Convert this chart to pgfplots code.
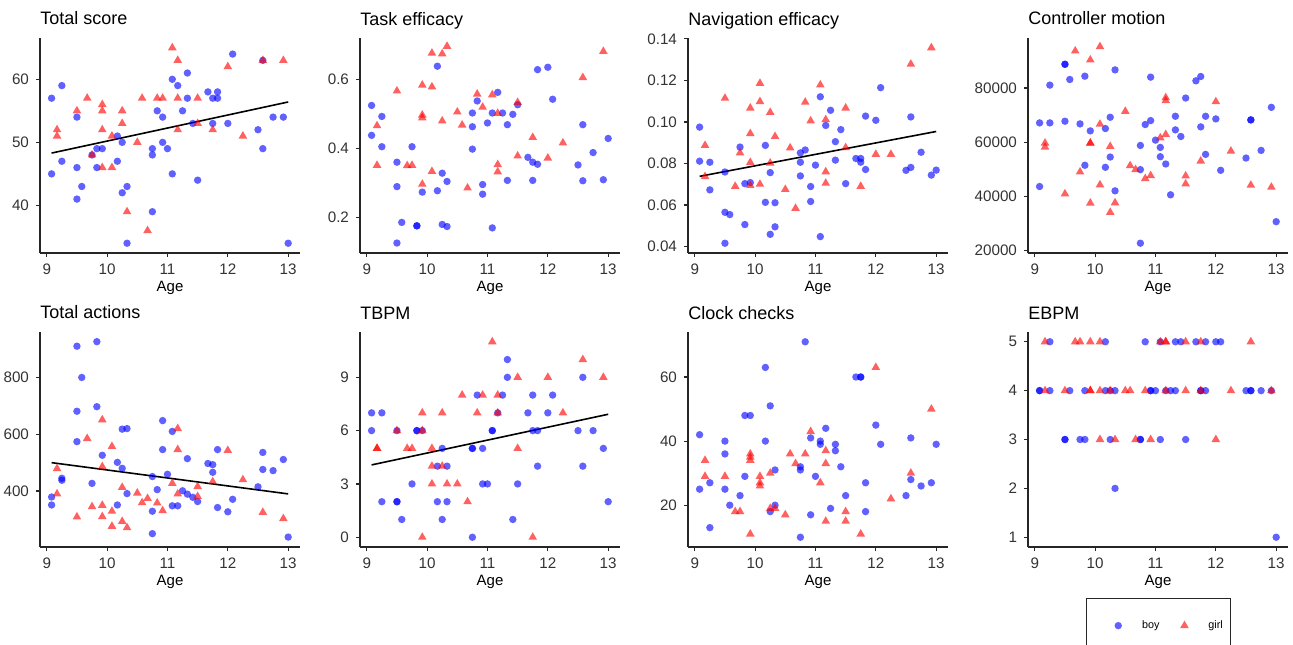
\documentclass[border=0pt]{standalone}
\usepackage{fontspec}
\setmainfont{Liberation Sans}
\usepackage{pgfplots}
\pgfplotsset{compat=1.18}

\pgfplotsset{
  panel/.style={
    scale only axis, width=130pt, height=107.5pt,
    axis lines*=left,
    axis line style={line width=0.6pt, black!85},
    tick align=outside, major tick length=2pt,
    tick style={line width=0.6pt, black!85},
    xmin=8.888, xmax=13.196, xtick={9,10,11,12,13},
    tick label style={font=\fontsize{7.6}{8}\selectfont, black!80},
    /pgf/number format/assume math mode=true,
    /pgf/number format/1000 sep={},
    scaled ticks=false,
    xlabel={Age},
    xlabel style={font=\fontsize{7.5}{8}\selectfont, yshift=3.5pt},
    title style={at={(0,1)}, anchor=base west, inner sep=0pt, yshift=0.5pt,
                 font=\fontsize{9}{10}\selectfont},
    clip=false,
  },
  boy/.style={only marks, mark=*, mark size=1.85pt,
    mark options={fill=blue, draw opacity=0, fill opacity=0.62}},
  girl/.style={only marks, mark=triangle*, mark size=2.5pt,
    mark options={fill=red, draw opacity=0, fill opacity=0.62}},
  fit/.style={black, line width=0.8pt, no marks},
}

\begin{document}
\begin{tikzpicture}
\useasboundingbox (0,0) rectangle (646.5pt,322pt);

% ---------- Total score
\begin{axis}[panel, at={(20pt,195.5pt)}, anchor=south west, title={Total score},
  ymin=32.45, ymax=66.55, ytick={40,50,60}]
\addplot[boy] coordinates {(9.08,57) (9.08,45) (9.25,59) (9.25,47) (9.5,54) (9.5,46) (9.5,41) (9.58,43) (9.75,48) (9.83,49) (9.83,46) (9.92,49) (10.17,51) (10.17,47) (10.25,50) (10.25,42) (10.33,43) (10.33,34) (10.75,49) (10.75,48) (10.75,39) (10.83,55) (10.92,54) (10.92,50) (11,49) (11.08,60) (11.08,45) (11.17,59) (11.25,55) (11.33,61) (11.33,57) (11.42,53) (11.5,44) (11.67,58) (11.75,57) (11.75,53) (11.83,58) (11.83,57) (12,53) (12.08,64) (12.5,52) (12.58,49) (12.58,63) (12.75,54) (12.92,54) (13,34)};
\addplot[girl] coordinates {(9.17,52) (9.17,51) (9.5,55) (9.67,57) (9.75,48) (9.92,56) (9.92,55) (9.92,52) (9.92,46) (10.08,51) (10.08,46) (10.25,55) (10.25,53) (10.33,39) (10.5,50) (10.58,57) (10.67,36) (10.83,57) (10.92,57) (11.08,65) (11.17,63) (11.17,57) (11.17,52) (11.5,57) (11.5,53) (11.75,52) (12,62) (12.25,51) (12.58,63) (12.92,63)};
\addplot[fit] coordinates {(9.08,48.3) (13,56.4)};
\end{axis}

% ---------- Task efficacy
\begin{axis}[panel, at={(180pt,195.5pt)}, anchor=south west, title={Task efficacy},
  ymin=0.096, ymax=0.721, ytick={0.2,0.4,0.6},
  yticklabel style={/pgf/number format/fixed, /pgf/number format/precision=1}]
\addplot[boy] coordinates {(9.08,0.525) (9.08,0.438) (9.25,0.493) (9.25,0.405) (9.5,0.360) (9.5,0.289) (9.5,0.125) (9.58,0.185) (9.75,0.405) (9.83,0.175) (9.83,0.175) (9.92,0.273) (10.17,0.639) (10.17,0.277) (10.25,0.328) (10.25,0.179) (10.33,0.304) (10.33,0.173) (10.75,0.503) (10.75,0.463) (10.75,0.398) (10.83,0.538) (10.92,0.295) (10.92,0.267) (11,0.474) (11.08,0.503) (11.08,0.169) (11.17,0.563) (11.25,0.503) (11.33,0.469) (11.33,0.307) (11.42,0.499) (11.5,0.527) (11.67,0.374) (11.75,0.360) (11.75,0.307) (11.83,0.354) (11.83,0.629) (12,0.636) (12.08,0.543) (12.5,0.352) (12.58,0.469) (12.58,0.306) (12.75,0.388) (12.92,0.309) (13,0.429)};
\addplot[girl] coordinates {(9.17,0.466) (9.17,0.351) (9.5,0.567) (9.67,0.350) (9.75,0.351) (9.92,0.584) (9.92,0.497) (9.92,0.489) (9.92,0.296) (10.08,0.677) (10.08,0.579) (10.08,0.333) (10.25,0.675) (10.25,0.480) (10.33,0.697) (10.5,0.506) (10.58,0.468) (10.67,0.285) (10.83,0.558) (10.92,0.520) (11.08,0.556) (11.17,0.502) (11.17,0.353) (11.17,0.332) (11.5,0.534) (11.5,0.378) (11.75,0.432) (12,0.372) (12.25,0.416) (12.58,0.606) (12.92,0.682)};
\end{axis}

% ---------- Navigation efficacy
\begin{axis}[panel, at={(344pt,195.5pt)}, anchor=south west, title={Navigation efficacy},
  ymin=0.0369, ymax=0.1404, ytick={0.04,0.06,0.08,0.10,0.12,0.14},
  yticklabel style={/pgf/number format/fixed, /pgf/number format/fixed zerofill, /pgf/number format/precision=2}]
\addplot[boy] coordinates {(9.08,0.0975) (9.08,0.0811) (9.25,0.0806) (9.25,0.0673) (9.5,0.0759) (9.5,0.0565) (9.5,0.0416) (9.58,0.0554) (9.75,0.0879) (9.83,0.0703) (9.83,0.0506) (9.92,0.0708) (10.17,0.0887) (10.17,0.0613) (10.25,0.0756) (10.25,0.0459) (10.33,0.0611) (10.33,0.0495) (10.75,0.0851) (10.75,0.0806) (10.75,0.0740) (10.83,0.0865) (10.92,0.0689) (10.92,0.0617) (11,0.0792) (11.08,0.1121) (11.08,0.0448) (11.17,0.0983) (11.25,0.1056) (11.33,0.0905) (11.33,0.0816) (11.42,0.0963) (11.5,0.0703) (11.67,0.0824) (11.75,0.0824) (11.75,0.0806) (11.83,0.1028) (11.83,0.0771) (12,0.1008) (12.08,0.1165) (12.5,0.0767) (12.58,0.1024) (12.58,0.0781) (12.75,0.0854) (12.92,0.0744) (13,0.0768)};
\addplot[girl] coordinates {(9.17,0.0887) (9.17,0.0737) (9.5,0.1114) (9.67,0.0690) (9.75,0.0851) (9.92,0.1067) (9.92,0.0944) (9.92,0.0805) (9.92,0.0694) (10.08,0.1186) (10.08,0.1098) (10.08,0.0700) (10.25,0.1046) (10.25,0.0802) (10.33,0.0930) (10.5,0.0675) (10.58,0.0875) (10.67,0.0584) (10.83,0.1095) (10.92,0.1005) (11.08,0.1178) (11.17,0.1011) (11.17,0.0760) (11.17,0.0705) (11.5,0.1067) (11.5,0.0876) (11.75,0.0690) (12,0.0844) (12.25,0.0844) (12.58,0.1278) (12.92,0.1357)};
\addplot[fit] coordinates {(9.08,0.0738) (13,0.0954)};
\end{axis}

% ---------- Controller motion
\begin{axis}[panel, at={(514pt,195.5pt)}, anchor=south west, title={Controller motion},
  ymin=19100, ymax=98500, ytick={20000,40000,60000,80000},
  yticklabel style={/pgf/number format/fixed}]
\addplot[boy] coordinates {(9.08,67150) (9.08,43650) (9.25,81100) (9.25,67150) (9.5,88800) (9.5,88800) (9.5,67760) (9.58,83180) (9.75,66780) (9.83,84400) (9.83,51500) (9.92,64200) (10.17,65060) (10.17,50750) (10.25,69230) (10.25,54540) (10.33,86730) (10.33,42060) (10.75,58820) (10.75,49890) (10.75,22720) (10.83,66540) (10.92,68000) (10.92,84040) (11,60780) (11.08,58090) (11.08,54660) (11.17,51970) (11.25,40590) (11.33,69600) (11.33,64580) (11.42,62130) (11.5,76330) (11.67,82690) (11.75,84280) (11.75,65680) (11.83,69600) (11.83,55520) (12,68620) (12.08,49640) (12.5,54170) (12.58,68250) (12.58,68250) (12.75,56990) (12.92,72900) (13,30670)};
\addplot[girl] coordinates {(9.17,59680) (9.17,58210) (9.5,40950) (9.67,93710) (9.75,49030) (9.92,90400) (9.92,59680) (9.92,59680) (9.92,37530) (10.08,95300) (10.08,66660) (10.08,44260) (10.25,58460) (10.25,34100) (10.33,37650) (10.5,71430) (10.58,51360) (10.67,49890) (10.83,46590) (10.92,47690) (11.08,61640) (11.17,76450) (11.17,75350) (11.17,62870) (11.5,47560) (11.5,44620) (11.75,53070) (12,74980) (12.25,56740) (12.58,44140) (12.92,43400)};
\end{axis}

% ---------- Total actions
\begin{axis}[panel, at={(20pt,48.5pt)}, anchor=south west, title={Total actions},
  ymin=203, ymax=960, ytick={400,600,800}]
\addplot[boy] coordinates {(9.08,379) (9.08,351) (9.25,445) (9.25,438) (9.5,910) (9.5,681) (9.5,574) (9.58,800) (9.75,427) (9.83,926) (9.83,697) (9.92,526) (10.17,501) (10.17,351) (10.25,618) (10.25,480) (10.33,620) (10.33,391) (10.75,451) (10.75,329) (10.75,250) (10.83,405) (10.92,648) (10.92,546) (11,459) (11.08,610) (11.08,348) (11.17,348) (11.25,401) (11.33,514) (11.33,389) (11.42,378) (11.5,363) (11.67,497) (11.75,493) (11.75,466) (11.83,342) (11.83,546) (12,327) (12.08,371) (12.5,415) (12.58,536) (12.58,476) (12.75,472) (12.92,511) (13,238)};
\addplot[girl] coordinates {(9.17,479) (9.17,390) (9.5,309) (9.67,585) (9.75,345) (9.92,651) (9.92,486) (9.92,350) (9.92,310) (10.08,557) (10.08,329) (10.08,276) (10.25,413) (10.25,293) (10.33,271) (10.5,393) (10.58,359) (10.67,374) (10.83,358) (10.92,331) (11.08,427) (11.17,620) (11.17,546) (11.17,390) (11.5,416) (11.5,381) (11.75,433) (12,543) (12.25,440) (12.58,325) (12.92,303)};
\addplot[fit] coordinates {(9.08,500) (13,390)};
\end{axis}

% ---------- TBPM
\begin{axis}[panel, at={(180pt,48.5pt)}, anchor=south west, title={TBPM},
  ymin=-0.55, ymax=11.55, ytick={0,3,6,9}]
\addplot[boy] coordinates {(9.08,7) (9.08,6) (9.25,7) (9.25,2) (9.5,6) (9.5,2) (9.5,2) (9.58,1) (9.75,3) (9.83,6) (9.83,6) (9.92,6) (10.17,4) (10.17,2) (10.25,5) (10.25,1) (10.33,4) (10.33,2) (10.75,5) (10.75,5) (10.75,0) (10.83,8) (10.92,5) (10.92,3) (11,3) (11.08,6) (11.08,6) (11.17,7) (11.25,8) (11.33,10) (11.33,9) (11.42,1) (11.5,3) (11.67,7) (11.75,8) (11.75,6) (11.83,6) (11.83,4) (12,7) (12.08,8) (12.5,6) (12.58,9) (12.58,4) (12.75,6) (12.92,5) (13,2)};
\addplot[girl] coordinates {(9.17,5) (9.17,5) (9.5,6) (9.67,5) (9.75,5) (9.92,7) (9.92,6) (9.92,0) (10.08,5) (10.08,4) (10.08,3) (10.25,7) (10.25,4) (10.33,3) (10.5,3) (10.58,8) (10.67,2) (10.83,7) (10.92,8) (11.08,11) (11.17,8) (11.17,7) (11.5,9) (11.5,5) (11.75,0) (12,9) (12.25,7) (12.58,10) (12.92,9)};
\addplot[fit] coordinates {(9.08,4.07) (13,6.92)};
\end{axis}

% ---------- Clock checks
\begin{axis}[panel, at={(344pt,48.5pt)}, anchor=south west, title={Clock checks},
  ymin=6.95, ymax=74.05, ytick={20,40,60}]
\addplot[boy] coordinates {(9.08,42) (9.08,25) (9.25,27) (9.25,13) (9.5,40) (9.5,36) (9.5,25) (9.58,20) (9.75,23) (9.83,29) (9.83,48) (9.92,48) (10.17,63) (10.17,40) (10.25,51) (10.25,18) (10.33,31) (10.33,20) (10.75,32) (10.75,31) (10.75,10) (10.83,71) (10.92,41) (10.92,17) (11,29) (11.08,40) (11.08,39) (11.17,44) (11.25,19) (11.33,39) (11.33,37) (11.42,32) (11.5,23) (11.67,60) (11.75,60) (11.75,60) (11.83,27) (11.83,18) (12,45) (12.08,39) (12.5,23) (12.58,41) (12.58,28) (12.75,26) (12.92,27) (13,39)};
\addplot[girl] coordinates {(9.17,34) (9.17,29) (9.5,29) (9.67,18) (9.75,18) (9.92,36) (9.92,35) (9.92,34) (9.92,11) (10.08,29) (10.08,27) (10.08,26) (10.25,30) (10.25,19) (10.33,19) (10.5,17) (10.58,36) (10.67,33) (10.83,36) (10.92,43) (11.08,27) (11.17,37) (11.17,33) (11.17,15) (11.5,18) (11.5,15) (11.75,11) (12,63) (12.25,22) (12.58,30) (12.92,50)};
\end{axis}

% ---------- EBPM
\begin{axis}[panel, at={(514pt,48.5pt)}, anchor=south west, title={EBPM},
  ymin=0.8, ymax=5.2, ytick={1,2,3,4,5},
  legend columns=2,
  legend image code/.code={\path (-13.8pt,0pt) (9.7pt,0pt); \draw[#1] plot coordinates {(0pt,0pt)};},
  legend style={at={(0.224,-0.236)}, anchor=north west, draw=black!85,
    line width=0.5pt, font=\fontsize{5.4}{6}\selectfont,
    inner xsep=1.7pt, inner ysep=9pt,
    /tikz/every even column/.append style={column sep=-3.6pt}}]
\addplot[boy] coordinates {(9.25,5) (10.17,5) (10.83,5) (11.08,5) (11.33,5) (11.42,5) (11.67,5) (11.83,5) (12,5) (12.08,5)
 (9.08,4) (9.08,4) (9.25,4) (9.58,4) (9.83,4) (10.17,4) (10.25,4) (10.33,4) (10.92,4) (10.92,4) (11,4) (11.17,4) (11.25,4) (11.33,4) (11.75,4) (11.75,4) (11.83,4) (12.5,4) (12.58,4) (12.58,4) (12.75,4) (12.92,4)
 (9.5,3) (9.5,3) (9.75,3) (9.83,3) (10.25,3) (10.75,3) (10.75,3) (11.08,3) (11.5,3)
 (10.33,2) (13,1)};
\addlegendentry{boy}
\addplot[girl] coordinates {(9.17,5) (9.67,5) (9.75,5) (9.92,5) (10.08,5) (11.08,5) (11.17,5) (11.17,5) (11.5,5) (11.75,5) (12.58,5)
 (9.17,4) (9.5,4) (9.92,4) (9.92,4) (10.08,4) (10.25,4) (10.5,4) (10.58,4) (10.83,4) (11.17,4) (11.5,4) (11.75,4) (12.25,4) (12.92,4)
 (10.08,3) (10.33,3) (10.67,3) (10.92,3) (12,3)};
\addlegendentry{girl}
\end{axis}
\end{tikzpicture}
\end{document}
